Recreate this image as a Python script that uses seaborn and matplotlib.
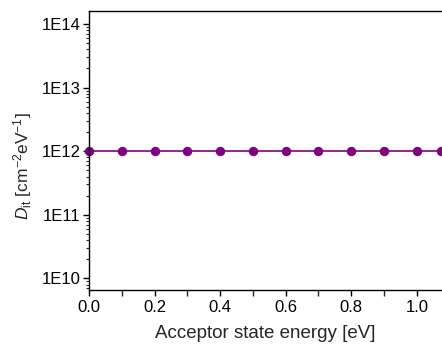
import numpy as np
import pandas as pd
import seaborn as sns
import matplotlib.pyplot as plt
from matplotlib.ticker import LogLocator, MultipleLocator, FuncFormatter

# acceptor state energy [eV] and interface trap density [cm^-2 eV^-1]
energy = [0.0, 0.1, 0.2, 0.3, 0.4, 0.5, 0.6, 0.7, 0.8, 0.9, 1.0, 1.075]
dit = [1e12] * len(energy)
df = pd.DataFrame({'energy': energy, 'dit': dit})

sns.set_style('ticks')
plt.rcParams['font.family'] = ['Liberation Sans', 'DejaVu Sans']
plt.rcParams['mathtext.fontset'] = 'custom'
plt.rcParams['mathtext.rm'] = 'Liberation Sans'
plt.rcParams['mathtext.it'] = 'Liberation Sans:italic'
plt.rcParams['mathtext.default'] = 'rm'

fig = plt.figure(figsize=(4.42, 3.45), dpi=100)
ax = fig.add_axes([0.2014, 0.1585, 0.7986, 0.8085])

sns.lineplot(data=df, x='energy', y='dit', ax=ax, color='#800080', marker='o',
             markersize=6, markeredgecolor='#800080', linewidth=1.2, clip_on=False)

ax.set_yscale('log')
ax.set_ylim(6.5e9, 1.58e14)
ax.set_xlim(0, 1.077)
ax.yaxis.set_major_locator(LogLocator(base=10, numticks=10))
ax.yaxis.set_minor_locator(LogLocator(base=10, subs=np.arange(2, 10), numticks=20))
ax.yaxis.set_major_formatter(FuncFormatter(lambda v, p: '1E%d' % round(np.log10(v))))
ax.xaxis.set_major_locator(MultipleLocator(0.2))
ax.xaxis.set_minor_locator(MultipleLocator(0.1))
ax.xaxis.set_major_formatter(FuncFormatter(lambda v, p: '%.1f' % v))

ax.tick_params(which='major', direction='out', length=4, width=1, labelsize=12,
               colors='black', pad=3)
ax.tick_params(axis='y', which='major', pad=2)
ax.tick_params(which='minor', direction='out', length=2.5, width=0.8)
ax.tick_params(axis='x', which='minor', length=4, width=1)
ax.spines['right'].set_visible(False)
for s in ['left', 'bottom', 'top']:
    ax.spines[s].set_linewidth(1.0)
    ax.spines[s].set_color('black')

ax.set_xlabel('Acceptor state energy [eV]', fontsize=13.5, labelpad=7)
ax.set_ylabel(r'$\mathit{D}_{\mathrm{it}}$ [cm$^{-2}$eV$^{-1}$]', fontsize=12.5)
ax.yaxis.set_label_coords(-0.155, 0.445)

fig.savefig('out.png', dpi=100)
